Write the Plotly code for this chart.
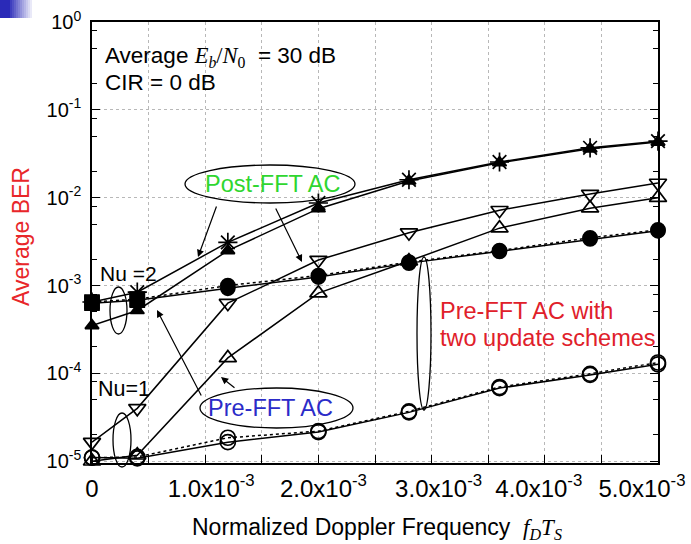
import plotly.graph_objects as go

# ---------------- data ----------------
x_vals = [0, 0.4e-3, 1.2e-3, 2.0e-3, 2.8e-3, 3.6e-3, 4.4e-3, 5.0e-3]

post_fft_nu2 = [6.5e-4, 8.4e-4, 3.1e-3, 8.7e-3, 1.6e-2, 2.55e-2, 3.7e-2, 4.4e-2]
post_fft_nu1 = [3.5e-4, 5.2e-4, 2.5e-3, 7.5e-3, 1.55e-2, 2.5e-2, 3.6e-2, 4.3e-2]
pre_fft_nu2 = [1.65e-5, 4.0e-5, 6.3e-4, 1.95e-3, 4.0e-3, 7.2e-3, 1.1e-2, 1.47e-2]
pre_fft_nu1 = [1.0e-5, 1.17e-5, 1.5e-4, 8.2e-4, 1.9e-3, 4.5e-3, 7.6e-3, 1.0e-2]
upd_nu2_solid = [6.3e-4, 6.8e-4, 9.3e-4, 1.25e-3, 1.8e-3, 2.45e-3, 3.4e-3, 4.2e-3]
upd_nu2_dotted = [6.5e-4, 7.0e-4, 1.0e-3, 1.3e-3, 1.85e-3, 2.5e-3, 3.5e-3, 4.3e-3]
upd_nu1_solid = [1.1e-5, 1.08e-5, 1.65e-5, 2.15e-5, 3.6e-5, 6.8e-5, 9.6e-5, 1.27e-4]
upd_nu1_dotted = [1.1e-5, 1.12e-5, 1.85e-5, 2.2e-5, 3.7e-5, 7.0e-5, 9.9e-5, 1.33e-4]

x_tick_values = [0, 1e-3, 2e-3, 3e-3, 4e-3, 5e-3]
x_tick_text = ["0", "1.0x10<sup>-3</sup>", "2.0x10<sup>-3</sup>", "3.0x10<sup>-3</sup>",
               "4.0x10<sup>-3</sup>", "5.0x10<sup>-3</sup>"]
x_mark_values = [i * 0.5e-3 for i in range(11)]
y_tick_values = [1e-5, 1e-4, 1e-3, 1e-2, 1e-1, 1e0]
y_tick_text = ["10<sup>-5</sup>", "10<sup>-4</sup>", "10<sup>-3</sup>", "10<sup>-2</sup>",
               "10<sup>-1</sup>", "10<sup>0</sup>"]

# ---------------- layout geometry ----------------
W, H = 691, 544
L, R, T, B = 92, 33, 22, 81
PW, PH = W - L - R, H - T - B
label_shift_px = [0, 6, 5, 7, -6, -16]   # hand-placed label offsets in the original
px_per_x = PW / 5e-3
x_label_pos = [v + s / px_per_x for v, s in zip(x_tick_values, label_shift_px)]


def P(xp, yp):
    return (xp - L) / PW, (H - B - yp) / PH


FONT = "Liberation Sans, Arial, Helvetica, sans-serif"

fig = go.Figure()


def add(y, symbol, dash="solid", size=13, lw=1.5):
    fig.add_trace(go.Scatter(
        x=x_vals, y=y, mode="lines+markers", cliponaxis=False,
        line=dict(color="black", width=lw, dash=dash),
        marker=dict(symbol=symbol, size=size, color="black",
                    line=dict(color="black", width=1.7)),
        showlegend=False, hoverinfo="skip"))


add(upd_nu1_dotted, "circle-open", dash="dot", size=15)
add(upd_nu1_solid, "circle-open", size=15)
add(upd_nu2_dotted, ["square", "square"] + ["circle"] * 6, dash="dot", size=14)
add(upd_nu2_solid, ["square", "square"] + ["circle"] * 6, size=14)
add(pre_fft_nu1, "triangle-up-open", size=15)
add(pre_fft_nu2, "triangle-down-open", size=15)
add(post_fft_nu1, "triangle-up", size=12)
add(post_fft_nu2, "asterisk-open", size=16)

shapes = []
# ellipses
for (x0, y0, x1, y1) in [(185, 165, 355, 203),   # Post-FFT AC
                         (200, 388, 353, 428),   # Pre-FFT AC
                         (110, 287, 127, 334),   # Nu=2
                         (113, 413, 131, 467),   # Nu=1
                         (417, 257, 431, 410)]:  # two update schemes
    a, b = P(x0, y0)
    c, d = P(x1, y1)
    shapes.append(dict(type="circle", xref="paper", yref="paper", x0=a, x1=c, y0=d, y1=b,
                       line=dict(color="black", width=1.3), layer="above"))

# blue corner decoration
shapes.append(dict(type="rect", xref="paper", yref="paper",
                   x0=P(0, 0)[0], x1=P(10, 0)[0], y0=P(0, 18)[1], y1=P(0, 0)[1],
                   line=dict(width=0), fillcolor="#2a2ab8"))
for i in range(11):
    xa = 10 + i * 2
    shapes.append(dict(type="rect", xref="paper", yref="paper",
                       x0=P(xa, 0)[0], x1=P(xa + 2, 0)[0], y0=P(0, 18)[1], y1=P(0, 0)[1],
                       line=dict(width=0), fillcolor="#2a2ab8", opacity=0.9 - i * 0.08))

annotations = []


def text(xp, yp, s, color="black", size=23, xanchor="left", angle=0):
    xx, yy = P(xp, yp)
    annotations.append(dict(x=xx, y=yy, xref="paper", yref="paper", text=s, showarrow=False,
                            xanchor=xanchor, yanchor="middle", textangle=angle,
                            font=dict(family=FONT, size=size, color=color)))


def arrow(tx, ty, hx, hy):
    xx, yy = P(hx, hy)
    annotations.append(dict(x=xx, y=yy, xref="paper", yref="paper", text="", showarrow=True,
                            ax=tx - hx, ay=ty - hy, axref="pixel", ayref="pixel",
                            arrowhead=2, arrowsize=1.2, arrowwidth=1.2, arrowcolor="black"))


text(103, 57, "Average <span style='font-family:Liberation Serif'><i>E<sub>b</sub></i>/<i>N</i><sub>0</sub></span>  = 30 dB", size=22.5)
text(103, 83, "CIR = 0 dB", size=22.5)
text(272, 184, "Post-FFT AC", color="#2fd62f", size=23.5, xanchor="center")
text(270, 408, "Pre-FFT AC", color="#2b2bc8", size=23.5, xanchor="center")
text(98, 273, "Nu =2", size=21)
text(96, 389, "Nu=1", size=21.5)
text(438, 311, "Pre-FFT AC with", color="#e0202a", size=23.5)
text(438, 338, "two update schemes", color="#e0202a", size=23.5)

# axis titles
text(21, 237, "Average BER", color="#e8262a", size=23, xanchor="center", angle=-90)
text(377, 528, "Normalized Doppler Frequency  <span style='font-family:Liberation Serif'><i>f<sub>D</sub>T<sub>S</sub></i></span>",
     size=23, xanchor="center")

arrow(217, 205, 198, 257)
arrow(275, 207, 302, 262)
arrow(202, 397, 157, 310)
arrow(236, 389, 221, 377)

minor_y = [m * 10 ** k for k in range(-5, 0) for m in (2, 5, 8)]

fig.update_layout(
    width=W, height=H, margin=dict(l=L, r=R, t=T, b=B, autoexpand=False),
    paper_bgcolor="white", plot_bgcolor="white",
    font=dict(family=FONT, size=21, color="black"),
    shapes=shapes, annotations=annotations,
    xaxis=dict(range=[0, 5e-3], tickmode="array", tickvals=x_label_pos, ticktext=x_tick_text,
               ticks="", showgrid=False, zeroline=False, automargin=False,
               showline=True, linecolor="black", linewidth=1.5, mirror=True,
               tickfont=dict(family=FONT, size=24, color="black"), ticklabelstandoff=3,
               minor=dict(tickmode="array", tickvals=x_mark_values, ticks="inside", ticklen=8,
                          tickwidth=1.3, tickcolor="black", showgrid=True,
                          gridcolor="#b8b8b8", griddash="dot", gridwidth=1)),
    yaxis=dict(type="log", range=[-5.02, 0], tickmode="array", tickvals=y_tick_values,
               ticktext=y_tick_text, ticks="inside", ticklen=8, tickwidth=1.3, tickcolor="black",
               showgrid=True, gridcolor="#b8b8b8", griddash="dot", gridwidth=1, automargin=False,
               zeroline=False, showline=True, linecolor="black", linewidth=1.5, mirror="ticks",
               tickfont=dict(family=FONT, size=20, color="black"), ticklabelstandoff=5,
               minor=dict(tickmode="array", tickvals=minor_y, ticks="inside", ticklen=5,
                          tickwidth=1.1, tickcolor="black", showgrid=False)),
)

fig.write_html("out.html", config={"displayModeBar": False},
               post_script="document.body.style.margin='0px';")
